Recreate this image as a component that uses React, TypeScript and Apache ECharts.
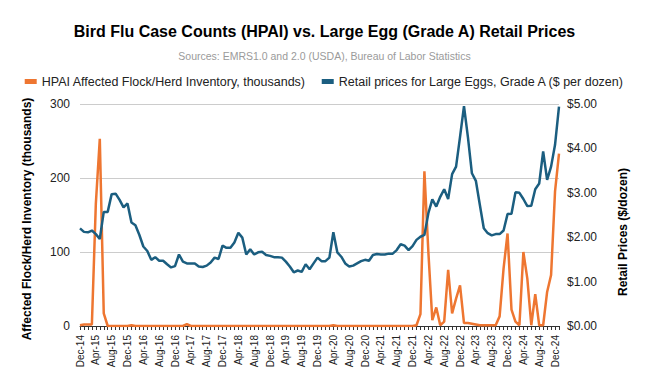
import React, { useEffect, useRef } from "react";
import * as echarts from "echarts";

const MONTHS = ["Jan", "Feb", "Mar", "Apr", "May", "Jun", "Jul", "Aug", "Sep", "Oct", "Nov", "Dec"];
// Dec-14 .. Jan-25 (122 months)
const categories: string[] = Array.from({ length: 122 }, (_, i) => {
  const m = (11 + i) % 12;
  const y = 14 + Math.floor((11 + i) / 12);
  return `${MONTHS[m]}-${y}`;
});

const hpaiInventory = [
  1, 2, 2, 2, 165, 253, 17, 0, 0, 0, 0, 0,
  0, 1, 0, 0, 0, 0, 0, 0, 0, 0, 0, 0,
  0, 0, 0, 2.5, 0, 0, 0, 0, 0, 0, 0, 0,
  0, 0, 0, 0, 0, 0, 0, 0, 0, 0, 0, 0,
  0, 0, 0, 0, 0, 0, 0, 0, 0, 0, 0, 0,
  0, 0, 0, 0, 1, 0, 0, 0, 0, 0, 0, 0,
  0, 0, 0, 0, 0, 0, 0, 0, 0, 0, 0, 0,
  0, 1, 16, 209, 100, 8, 25, 1, 6, 76, 17, 37,
  55, 4, 4, 3, 2, 1, 1, 1, 1, 1, 13, 78,
  125, 22, 6, 1, 100, 64, 1, 43, 1, 1, 46, 69,
  182, 233,
];

const eggPrices = [
  2.2, 2.12, 2.11, 2.15, 2.07, 1.96, 2.57, 2.57, 2.97, 2.98, 2.84, 2.67,
  2.76, 2.33, 2.27, 2.05, 1.79, 1.69, 1.49, 1.55, 1.47, 1.47, 1.39, 1.32,
  1.35, 1.61, 1.45, 1.41, 1.41, 1.41, 1.34, 1.33, 1.36, 1.43, 1.54, 1.51,
  1.81, 1.76, 1.76, 1.88, 2.1, 1.99, 1.61, 1.73, 1.61, 1.66, 1.67, 1.6,
  1.58, 1.55, 1.55, 1.54, 1.45, 1.34, 1.21, 1.25, 1.22, 1.39, 1.28, 1.41,
  1.54, 1.46, 1.46, 1.54, 2.11, 1.66, 1.56, 1.41, 1.34, 1.36, 1.41, 1.46,
  1.49, 1.47, 1.6, 1.62, 1.61, 1.61, 1.63, 1.63, 1.71, 1.84, 1.81, 1.71,
  1.8, 1.94, 2.01, 2.05, 2.54, 2.85, 2.69, 2.91, 3.08, 2.86, 3.42, 3.59,
  4.26, 4.95, 4.25, 3.44, 3.27, 2.73, 2.2, 2.09, 2.04, 2.07, 2.07, 2.15,
  2.52, 2.53, 3.01, 3.0, 2.86, 2.7, 2.71, 3.08, 3.21, 3.93, 3.29, 3.59,
  4.08, 4.94,
];

const leftTicks = { min: 0, max: 300, interval: 100 };
const rightTicks = { min: 0, max: 5, interval: 1 };

const FONT = "'Liberation Sans', Arial, sans-serif";
const ORANGE = "#EE7631";
const BLUE = "#1B5E80";

export default function App() {
  const ref = useRef<HTMLDivElement>(null);
  useEffect(() => {
    if (!ref.current) return;
    const chart = echarts.init(ref.current, null, { renderer: "svg" });
    chart.setOption({
      animation: false,
      backgroundColor: "#ffffff",
      textStyle: { fontFamily: FONT },
      title: [
        {
          text: "Bird Flu Case Counts (HPAI) vs. Large Egg (Grade A) Retail Prices",
          left: "center",
          top: 18,
          textStyle: { fontFamily: FONT, fontSize: 16, fontWeight: "bold", color: "#000" },
        },
        {
          text: "Sources: EMRS1.0 and 2.0 (USDA), Bureau of Labor Statistics",
          left: "center",
          top: 45,
          textStyle: { fontFamily: FONT, fontSize: 10.5, fontWeight: "normal", color: "#9a9a9a" },
        },
      ],
      legend: {
        top: 70,
        left: "center",
        icon: "rect",
        itemWidth: 12,
        itemHeight: 5,
        itemGap: 16,
        textStyle: { fontFamily: FONT, fontSize: 12.5, color: "#222" },
        data: [
          "HPAI Affected Flock/Herd Inventory, thousands)",
          "Retail prices for Large Eggs, Grade A ($ per dozen)",
        ],
      },
      grid: { left: 80, right: 90, top: 104, bottom: 60, containLabel: false },
      xAxis: {
        type: "category",
        data: categories,
        boundaryGap: false,
        axisLine: { show: true, lineStyle: { color: "#333", width: 1 } },
        axisTick: { show: true, interval: 0, length: 4, lineStyle: { color: "#333" } },
        axisLabel: {
          interval: 3,
          rotate: 90,
          fontSize: 10,
          color: "#222",
          fontFamily: FONT,
          margin: 9,
        },
        splitLine: { show: false },
      },
      yAxis: [
        {
          type: "value",
          ...leftTicks,
          axisLine: { show: false },
          axisTick: { show: false },
          axisLabel: { fontSize: 12, color: "#222", margin: 10, fontFamily: FONT },
          splitLine: { show: true, lineStyle: { color: "#cccccc", width: 1 } },
        },
        {
          type: "value",
          ...rightTicks,
          position: "right",
          axisLine: { show: false },
          axisTick: { show: false },
          axisLabel: {
            fontSize: 12,
            color: "#222",
            margin: 8,
            fontFamily: FONT,
            formatter: (v: number) => "$" + v.toFixed(2),
          },
          splitLine: { show: false },
        },
      ],
      graphic: [
        {
          type: "text",
          x: 27,
          y: 219,
          rotation: Math.PI / 2,
          style: {
            text: "Affected Flock/Herd Inventory (thousands)",
            font: `bold 12px ${FONT}`,
            fill: "#000",
            textAlign: "center",
            textVerticalAlign: "middle",
          },
        },
        {
          type: "text",
          x: 623,
          y: 232,
          rotation: Math.PI / 2,
          style: {
            text: "Retail Prices ($/dozen)",
            font: `bold 12px ${FONT}`,
            fill: "#000",
            textAlign: "center",
            textVerticalAlign: "middle",
          },
        },
      ],
      series: [
        {
          name: "HPAI Affected Flock/Herd Inventory, thousands)",
          type: "line",
          yAxisIndex: 0,
          data: hpaiInventory,
          showSymbol: false,
          symbol: "none",
          lineStyle: { color: ORANGE, width: 2.5 },
          itemStyle: { color: ORANGE },
        },
        {
          name: "Retail prices for Large Eggs, Grade A ($ per dozen)",
          type: "line",
          yAxisIndex: 1,
          data: eggPrices,
          showSymbol: false,
          symbol: "none",
          lineStyle: { color: BLUE, width: 2.5 },
          itemStyle: { color: BLUE },
        },
      ],
    });
    return () => chart.dispose();
  }, []);
  return (
    <div
      ref={ref}
      style={{ position: "fixed", left: 0, top: 0, width: 649, height: 386, background: "#fff" }}
    />
  );
}
